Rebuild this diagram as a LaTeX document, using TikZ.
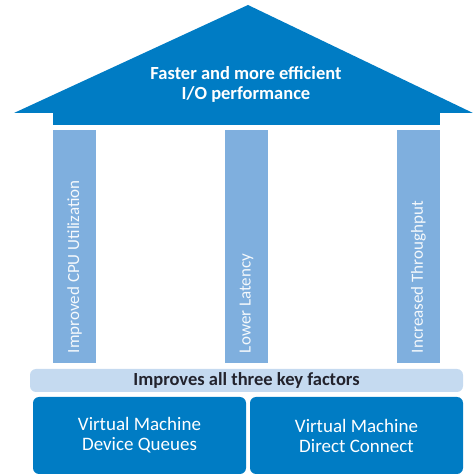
\documentclass[tikz,border=0pt]{standalone}
\usepackage{fontspec}
\setmainfont{Carlito}
\usetikzlibrary{positioning}

\definecolor{blue1}{RGB}{0,124,196}
\definecolor{blue2}{RGB}{127,175,222}
\definecolor{blue3}{RGB}{197,218,240}
\definecolor{gray1}{RGB}{35,35,45}

\tikzstyle{pillar} = [fill=blue2, minimum width=43pt, minimum height=233pt, inner sep=0pt]
\tikzstyle{pillartext} = [rotate=90, anchor=west, inner sep=0pt, text=white!92!blue2, font=\fontsize{17}{20}\selectfont]
\tikzstyle{basebox} = [fill=blue1, rounded corners=6pt, minimum width=213pt, minimum height=77pt, text=white, align=center, font=\fontsize{19}{20}\selectfont]
\tikzstyle{bar} = [fill=blue3, rounded corners=6pt, minimum width=433pt, minimum height=23pt, inner sep=0pt, text=gray1, font=\bfseries\fontsize{18.5}{20}\selectfont]

\begin{document}
\begin{tikzpicture}[x=1pt, y=1pt, node distance=172pt]
	\useasboundingbox (0,0) rectangle (473,475);
	\fill [blue1] (14,362) -- (248,470) -- (473,362) -- cycle;
	\fill [blue1] (53,350) rectangle (440,362);
	\node [text=white, align=center, font=\bfseries\fontsize{18.5}{20}\selectfont] (roof) at (246,391) {Faster and more efficient\\I/O performance};

	\node [pillar] (cpu) at (74.5,228.5) {};
	\node [pillar, right of=cpu] (latency) {};
	\node [pillar, right of=latency] (throughput) {};
	\node [pillartext] (cputext) at ([yshift=10pt]cpu.south) {Improved CPU Utilization};
	\node [pillartext] (latencytext) at ([yshift=10pt]latency.south) {Lower Latency};
	\node [pillartext] (throughputtext) at ([yshift=10pt]throughput.south) {Increased Throughput};

	\node [bar] (factors) at (246.5,94.5) {Improves all three key factors};
	\node [basebox] (queues) at (139.5,39.5) {Virtual Machine\\Device Queues};
	\node [basebox] (connect) at (356.5,39.5) {Virtual Machine\\Direct Connect};
\end{tikzpicture}
\end{document}
